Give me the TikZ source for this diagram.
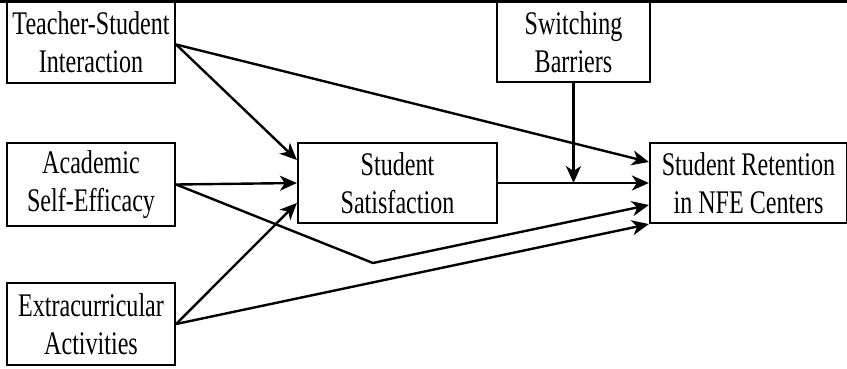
\documentclass[tikz,border=0pt]{standalone}
\usepackage{fontspec}
\setmainfont{Liberation Serif}[FakeStretch=0.73]
\usetikzlibrary{arrows.meta,calc}
\begin{document}
\begin{tikzpicture}[x=1pt,y=-1pt,
  boxnode/.style={draw=black,line width=2.2pt,fill=white,inner sep=0pt,align=center,
    font=\fontsize{33}{38}\selectfont},
  conn/.style={line width=2.4pt,-{Stealth[length=17pt,width=15pt,inset=5pt]}}]
\useasboundingbox (0,0) rectangle (847,368);
\fill[white] (0,0) rectangle (847,368);
\node[boxnode,minimum width=168pt,minimum height=81pt] (ts) at (91,42.5) {Teacher-Student\\Interaction};
\node[boxnode,minimum width=168pt,minimum height=83pt] (ase) at (91,184.5) {Academic\\Self-Efficacy};
\node[boxnode,minimum width=168pt,minimum height=82pt] (ea) at (91,324) {Extracurricular\\Activities};
\node[boxnode,minimum width=199pt,minimum height=80pt] (ss) at (397.5,183) {Student\\Satisfaction};
\node[boxnode,minimum width=153pt,minimum height=80pt] (sb) at (573.5,42) {Switching\\Barriers};
\node[boxnode,minimum width=197pt,minimum height=80pt] (sr) at (748.5,183) {Student Retention\\in NFE Centers};
\coordinate (bend) at (373,263);
\coordinate (tsout) at ([yshift=-2pt]ts.east);
\draw[conn] (tsout) -- ([yshift=23pt]ss.west);
\draw[conn] (tsout) -- ([yshift=21pt]sr.west);
\draw[conn] (ase.east) -- (ss.west);
\draw[conn] (ase.east) -- (bend) -- ([yshift=-22pt]sr.west);
\draw[conn] (ea.east) -- ([yshift=-20pt]ss.west);
\draw[conn] (ea.east) -- (sr.south west);
\draw[conn] (ss.east) -- (sr.west);
\draw[conn] (sb.south) -- (sb.south |- ss.east);
\fill[black] (0,0) rectangle (847,3);
\end{tikzpicture}
\end{document}
